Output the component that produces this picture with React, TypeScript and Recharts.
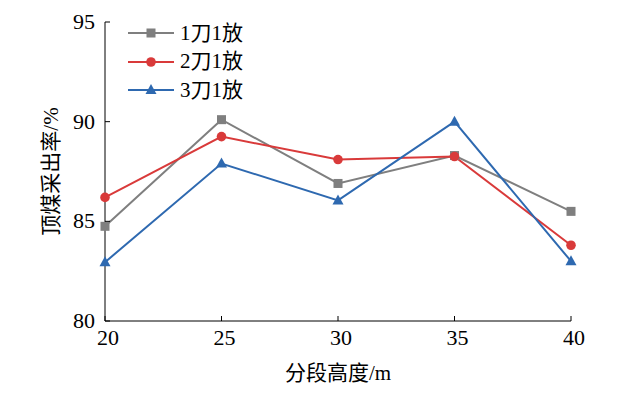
import { LineChart, Line, XAxis, YAxis } from 'recharts';

const heights = [20, 25, 30, 35, 40];
const oneCut = [84.75, 90.1, 86.9, 88.3, 85.5];
const twoCut = [86.2, 89.25, 88.1, 88.25, 83.8];
const threeCut = [82.95, 87.9, 86.05, 90.0, 83.0];
const yTicks = [80, 85, 90, 95];

const FONT = "'Liberation Serif', 'Noto Sans CJK SC'";

const SERIES = [
  { key: 'a', name: '1刀1放', color: '#7f7f7f', shape: 'square' },
  { key: 'b', name: '2刀1放', color: '#d93a3a', shape: 'circle' },
  { key: 'c', name: '3刀1放', color: '#2e69b0', shape: 'triangle' },
];

const data = heights.map((h, i) => ({ h, a: oneCut[i], b: twoCut[i], c: threeCut[i] }));

function Marker({ cx, cy, shape, color }: any) {
  if (cx == null || cy == null) return null;
  if (shape === 'square') return <rect x={cx - 4.5} y={cy - 4.5} width={9} height={9} fill={color} />;
  if (shape === 'circle') return <circle cx={cx} cy={cy} r={4.8} fill={color} />;
  return <path d={`M${cx},${cy - 6} L${cx + 5.5},${cy + 4} L${cx - 5.5},${cy + 4} Z`} fill={color} />;
}

function YTick({ x, y, payload }: any) {
  return (
    <g>
      <line x1={x + 10} x2={x + 15} y1={y} y2={y} stroke="#000" strokeWidth={1} />
      <text x={x} y={y} dy={7} textAnchor="end" style={{ fontFamily: FONT, fontSize: 22 }} fill="#000">
        {payload.value}
      </text>
    </g>
  );
}

function XTick({ x, y, payload }: any) {
  return (
    <g>
      <line x1={x} x2={x} y1={y - 4} y2={y - 9} stroke="#000" strokeWidth={1} />
      <text x={x + 3} y={y} dy={20} textAnchor="middle" style={{ fontFamily: FONT, fontSize: 22 }} fill="#000">
        {payload.value}
      </text>
    </g>
  );
}

function LegendBox() {
  return (
    <div style={{ position: 'absolute', left: 128, top: 19, fontFamily: FONT, fontSize: 21, color: '#000', lineHeight: 1 }}>
      {SERIES.map((s) => (
        <div key={s.key} style={{ display: 'flex', alignItems: 'center', height: 28.5 }}>
          <svg width={48} height={14} style={{ marginRight: 4 }}>
            <line x1={0} x2={46} y1={7} y2={7} stroke={s.color} strokeWidth={2} />
            <Marker cx={23} cy={7} shape={s.shape} color={s.color} />
          </svg>
          <span>{s.name}</span>
        </div>
      ))}
    </div>
  );
}

export default function App() {
  return (
    <div style={{ position: 'absolute', left: 0, top: 0, width: 626, height: 393, background: '#fff' }}>
      <LineChart width={626} height={393} data={data} margin={{ top: 22, right: 55, bottom: 27, left: 45 }}>
        <XAxis
          dataKey="h"
          type="number"
          domain={[20, 40]}
          ticks={heights}
          stroke="#000"
          tickSize={0}
          tickMargin={4}
          tick={<XTick />}
          height={45}
          label={{ value: '分段高度/m', position: 'insideBottom', offset: -14, style: { fontSize: 21, fontFamily: FONT }, fill: '#000' }}
        />
        <YAxis
          type="number"
          domain={[80, 95]}
          ticks={yTicks}
          stroke="#000"
          tickSize={0}
          tickMargin={10}
          tick={<YTick />}
          width={60}
          label={{ value: '顶煤采出率/%', angle: -90, position: 'insideLeft', offset: 6, textAnchor: 'middle', style: { fontSize: 21, fontFamily: FONT, textAnchor: 'middle' }, fill: '#000' }}
        />
        {SERIES.map((s) => (
          <Line
            key={s.key}
            dataKey={s.key}
            name={s.name}
            stroke={s.color}
            strokeWidth={2}
            isAnimationActive={false}
            dot={(p: any) => <Marker key={`${s.key}-${p.index}`} cx={p.cx} cy={p.cy} shape={s.shape} color={s.color} />}
            activeDot={false}
          />
        ))}
      </LineChart>
      <LegendBox />
    </div>
  );
}
